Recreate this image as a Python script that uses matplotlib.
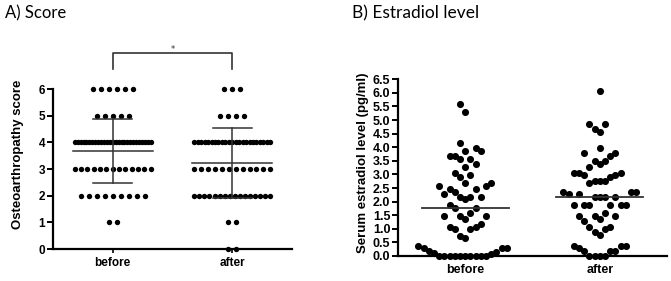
import numpy as np
import matplotlib.pyplot as plt

groups = ['before', 'after']

# A) osteoarthropathy score: number of patients at each score
score_levels = [0, 1, 2, 3, 4, 5, 6]
score_before = [0, 2, 9, 13, 27, 5, 6]
score_after = [2, 2, 16, 12, 23, 4, 3]

# B) serum estradiol (pg/ml), one value per patient
estradiol_before = [5.58, 5.28, 4.17, 3.87, 3.99, 3.56, 3.68, 3.68, 3.87, 3.56,
                    3.28, 3.38, 2.99, 3.07, 2.89, 2.68, 2.68, 2.36, 2.56, 2.48,
                    2.48, 2.56, 2.28, 2.18, 2.18, 2.09, 2.18, 1.77, 1.77, 1.88,
                    1.48, 1.36, 1.58, 1.48, 1.48, 1.05, 0.99, 1.17, 0.99, 1.05,
                    0.65, 0.75, 0.38, 0.28, 0.28, 0.13, 0.07, 0.0, 0.0, 0.0,
                    0.0, 0.0, 0.0, 0.0, 0.0, 0.0, 0.0, 0.10, 0.20, 0.28]
estradiol_after = [6.07, 4.87, 4.87, 4.57, 4.66, 3.99, 3.78, 3.68, 3.78, 3.48,
                   3.48, 3.38, 3.28, 2.99, 3.07, 3.07, 3.07, 2.99, 2.89, 2.77,
                   2.68, 2.77, 2.77, 2.36, 2.28, 2.28, 2.36, 2.36, 2.18, 2.18,
                   2.18, 2.18, 1.88, 1.88, 1.88, 1.88, 1.88, 1.88, 1.60, 1.48,
                   1.36, 1.30, 1.48, 1.48, 1.05, 0.99, 0.77, 0.87, 1.05, 0.38,
                   0.38, 0.38, 0.17, 0.17, 0.17, 0.28, 0.0, 0.0, 0.0, 0.0]

W, H, DPI = 671, 281, 100
LINE = '#333333'
TICKFONT = 'Liberation Sans'
TITLEFONT = 'Lato'


def row_offsets(n, px_per_unit, step=8.0, max_width=76.0):
    # points with the same score sit in one centred row, squeezed if crowded
    if n < 2:
        return np.zeros(n)
    sp = min(step, max_width / (n - 1))
    return (np.arange(n) - (n - 1) / 2) * sp / px_per_unit


def swarm_offsets(values, xppu, yppu, step=5.2, rx=5.15, ry=15.0):
    # beeswarm on a grid of horizontal slots, elliptical collision
    values = np.asarray(values, dtype=float)
    offs = np.zeros(len(values))
    placed = []
    cands = [0] + [s * j for j in range(1, 40) for s in (-1, 1)]
    for i in np.argsort(values, kind='stable'):
        y = values[i] * yppu
        for c in cands:
            x = c * step
            if all(((x - px) / rx) ** 2 + ((y - py) / ry) ** 2 >= 1 for px, py in placed):
                break
        placed.append((x, y))
        offs[i] = x / xppu
    return offs


def style_axis(ax, ticksize):
    for s in ['top', 'right']:
        ax.spines[s].set_visible(False)
    for s in ['left', 'bottom']:
        ax.spines[s].set_linewidth(1.6)
    ax.set_xlim(-0.5, 1.5)
    ax.set_xticks([0, 1])
    ax.set_xticklabels(groups, fontsize=ticksize, fontweight='bold', family=TICKFONT)
    ax.tick_params(axis='x', length=3, width=1.2, pad=3)
    ax.tick_params(axis='y', length=4, width=1.4, pad=1.5)
    for t in ax.get_yticklabels():
        t.set_fontsize(ticksize)
        t.set_fontweight('bold')
        t.set_family(TICKFONT)


fig = plt.figure(figsize=(W / DPI, H / DPI), dpi=DPI)

# ---------------- A) Score ----------------
axA = fig.add_axes([53 / W, 1 - 249 / H, 239 / W, 160 / H])
xppuA = 239 / 2
for gi, counts in enumerate([score_before, score_after]):
    vals = []
    for lvl, n in zip(score_levels, counts):
        xs = gi + row_offsets(n, xppuA)
        axA.scatter(xs, [lvl] * n, s=15, color='black', linewidths=0,
                    clip_on=False, zorder=3)
        vals += [lvl] * n
    m, sd = np.mean(vals), np.std(vals, ddof=1)
    axA.plot([gi - 0.335, gi + 0.335], [m, m], color=LINE, lw=1.1, zorder=4)
    axA.plot([gi, gi], [m - sd, m + sd], color=LINE, lw=1.1, zorder=4)
    for yy in (m - sd, m + sd):
        axA.plot([gi - 0.165, gi + 0.165], [yy, yy], color=LINE, lw=1.1, zorder=4)

axA.set_ylim(0, 6)
axA.set_yticks(range(0, 7))
style_axis(axA, 8.5)
axA.set_ylabel('Osteoarthropathy score', fontsize=9.5, fontweight='bold', family=TICKFONT)
axA.yaxis.set_label_coords(-0.12, 0.59)

# significance bracket
axA.plot([0, 0, 1, 1], [6.75, 7.35, 7.35, 6.75], color=LINE, lw=1.2, clip_on=False)
axA.text(0.5, 7.5, '*', ha='center', va='center', fontsize=6, color=LINE)

# ---------------- B) Estradiol ----------------
axB = fig.add_axes([398 / W, 1 - 256 / H, 269 / W, 176.7 / H])
xppuB = 269 / 2
yppuB = 176.7 / 6.5
for gi, vals in enumerate([estradiol_before, estradiol_after]):
    xs = gi + swarm_offsets(vals, xppuB, yppuB)
    axB.scatter(xs, vals, s=26, color='black', linewidths=0, clip_on=False, zorder=3)
    m = np.mean(vals)
    axB.plot([gi - 0.325, gi + 0.325], [m, m], color=LINE, lw=1.3, zorder=4)

axB.set_ylim(0, 6.5)
axB.set_yticks(np.arange(0, 6.51, 0.5))
axB.set_yticklabels([f'{v:.1f}' for v in np.arange(0, 6.51, 0.5)])
style_axis(axB, 9)
axB.set_ylabel('Serum estradiol level (pg/ml)', fontsize=9.5, fontweight='bold', family=TICKFONT)
axB.yaxis.set_label_coords(-0.108, 0.53)

fig.text(5 / W, 1 - 13 / H, 'A) Score', ha='left', va='center', fontsize=12, family=TITLEFONT)
fig.text(352 / W, 1 - 13 / H, 'B) Estradiol level', ha='left', va='center', fontsize=12.5, family=TITLEFONT)

fig.savefig('out.png', dpi=DPI)
